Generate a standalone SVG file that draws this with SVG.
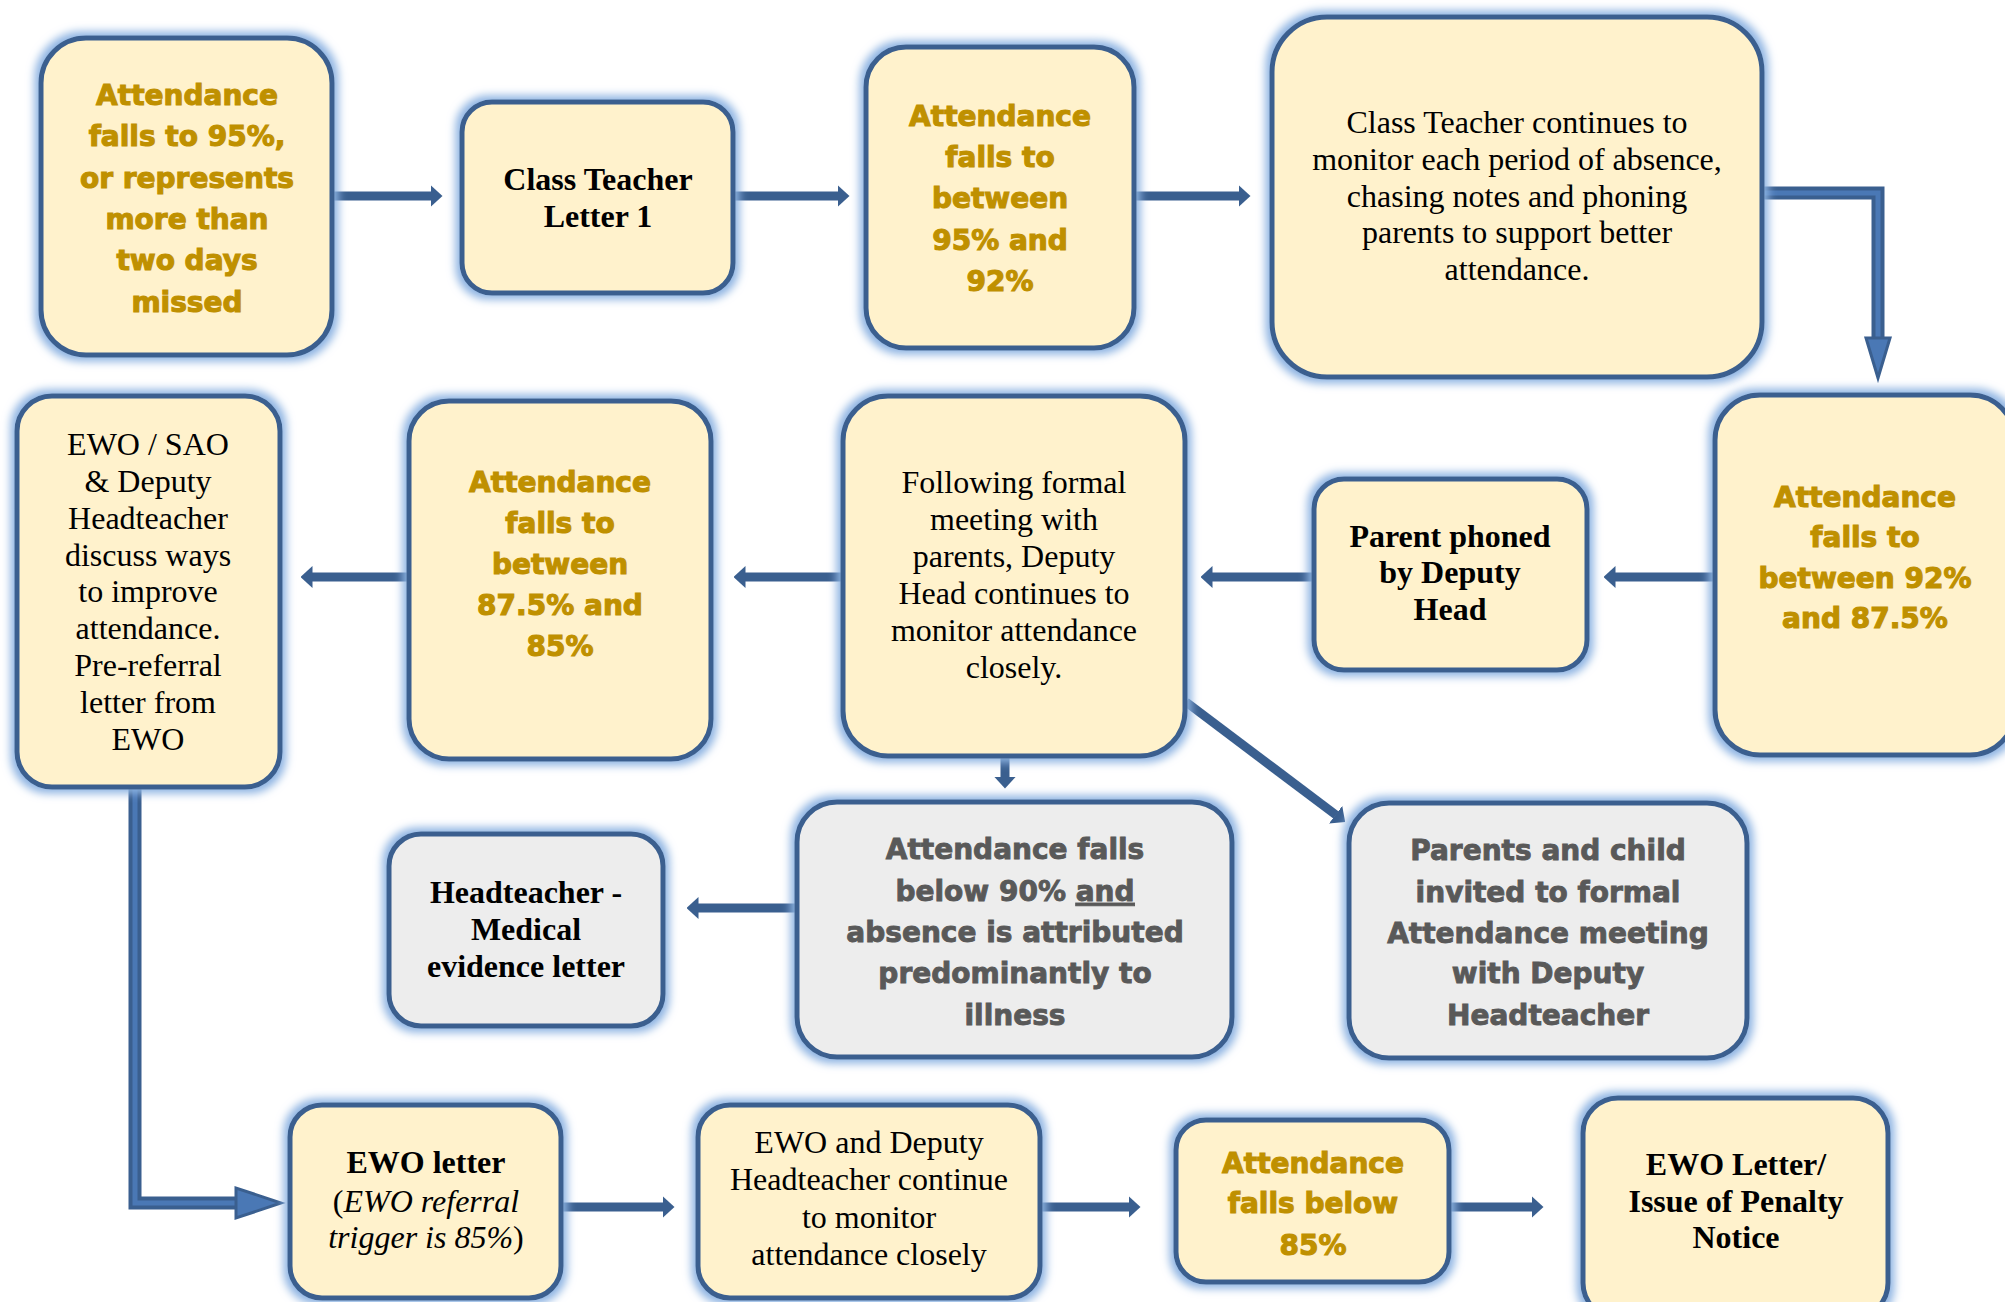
<svg xmlns="http://www.w3.org/2000/svg" width="2005" height="1302" viewBox="0 0 2005 1302">
<style>
.box{fill:#FFF2CC;stroke:#3A5F8F;stroke-width:5;filter:url(#glow)}
.gbox{fill:#EDEDED;stroke:#3A5F8F;stroke-width:5;filter:url(#glow)}
.g{font-family:"DejaVu Sans",sans-serif;font-weight:bold;font-size:28px;fill:#BF9000;stroke:#BF9000;stroke-width:1.1;text-anchor:middle}
.gr{font-family:"DejaVu Sans",sans-serif;font-weight:bold;font-size:28px;fill:#595959;stroke:#595959;stroke-width:0.9;text-anchor:middle}
.s{font-family:"Liberation Serif",serif;font-size:32px;fill:#000;text-anchor:middle}
.sb{font-family:"Liberation Serif",serif;font-weight:bold;font-size:32px;fill:#000;text-anchor:middle}
.ar{stroke:#3A5F8F;stroke-width:9;fill:none;marker-end:url(#ah)}
.el{stroke:#3A5F8F;stroke-width:13;fill:none;stroke-linejoin:miter}
.eli{stroke:#4A78B5;stroke-width:5;fill:none;stroke-linejoin:miter}
.eh{fill:#4A78B5;stroke:#3A5F8F;stroke-width:3;stroke-linejoin:miter}
</style>
<defs>
<filter id="glow" x="-15%" y="-15%" width="130%" height="130%">
<feMorphology in="SourceAlpha" operator="dilate" radius="4" result="d"/>
<feGaussianBlur in="d" stdDeviation="4" result="b"/>
<feFlood flood-color="#8DB3E2" flood-opacity="1"/>
<feComposite in2="b" operator="in" result="gl"/>
<feMerge><feMergeNode in="gl"/><feMergeNode in="SourceGraphic"/></feMerge>
</filter>
<marker id="ah" viewBox="0 0 12 22" markerWidth="12" markerHeight="22" refX="0.5" refY="11" markerUnits="userSpaceOnUse" orient="auto">
<path d="M0,0 L12,11 L0,22 z" fill="#3A5F8F"/>
</marker>
</defs>
<rect width="2005" height="1302" fill="#FFFFFF"/>

<g id="connectors">
<line class="ar" x1="332" y1="196" x2="431" y2="196"/>
<line class="ar" x1="733" y1="196" x2="838" y2="196"/>
<line class="ar" x1="1135" y1="196" x2="1239" y2="196"/>
<line class="ar" x1="1715" y1="577" x2="1615" y2="577"/>
<line class="ar" x1="1314" y1="577" x2="1212" y2="577"/>
<line class="ar" x1="843" y1="577" x2="745" y2="577"/>
<line class="ar" x1="409" y1="577" x2="312" y2="577"/>
<line class="ar" x1="797" y1="908" x2="698" y2="908"/>
<line class="ar" x1="561" y1="1207" x2="663" y2="1207"/>
<line class="ar" x1="1040" y1="1207" x2="1129" y2="1207"/>
<line class="ar" x1="1449" y1="1207" x2="1532" y2="1207"/>
<line class="ar" x1="1005" y1="757" x2="1005" y2="777"/>
<line class="ar" x1="1186" y1="702" x2="1336" y2="815"/>
<path class="el" d="M1763,193 H1878 V340"/>
<path class="eli" d="M1763,193 H1878 V340"/>
<polygon class="eh" points="1866,338 1890,338 1878,378"/>
<path class="el" d="M135,788 V1203 H238"/>
<path class="eli" d="M135,788 V1203 H238"/>
<polygon class="eh" points="236,1188 236,1218 281,1203"/>
</g>

<g id="n1">
<rect class="box" x="41" y="38" width="291" height="317" rx="45"/>
<text class="g" x="187" y="105">Attendance</text>
<text class="g" x="187" y="146">falls to 95%,</text>
<text class="g" x="187" y="188">or represents</text>
<text class="g" x="187" y="229">more than</text>
<text class="g" x="187" y="270">two days</text>
<text class="g" x="187" y="312">missed</text>
</g>
<g id="n2">
<rect class="box" x="462" y="102" width="271" height="191" rx="30"/>
<text class="sb" x="598" y="190">Class Teacher</text>
<text class="sb" x="598" y="227">Letter 1</text>
</g>
<g id="n3">
<rect class="box" x="866" y="47" width="268" height="301" rx="40"/>
<text class="g" x="1000" y="126">Attendance</text>
<text class="g" x="1000" y="167">falls to</text>
<text class="g" x="1000" y="208">between</text>
<text class="g" x="1000" y="250">95% and</text>
<text class="g" x="1000" y="291">92%</text>
</g>
<g id="n4">
<rect class="box" x="1272" y="17" width="490" height="360" rx="55"/>
<text class="s" x="1517" y="133">Class Teacher continues to</text>
<text class="s" x="1517" y="170">monitor each period of absence,</text>
<text class="s" x="1517" y="207">chasing notes and phoning</text>
<text class="s" x="1517" y="243">parents to support better</text>
<text class="s" x="1517" y="280">attendance.</text>
</g>
<g id="n5">
<rect class="box" x="1715" y="395" width="300" height="360" rx="45"/>
<text class="g" x="1865" y="507">Attendance</text>
<text class="g" x="1865" y="547">falls to</text>
<text class="g" x="1865" y="588">between 92%</text>
<text class="g" x="1865" y="628">and 87.5%</text>
</g>
<g id="n6">
<rect class="box" x="1314" y="479" width="273" height="191" rx="30"/>
<text class="sb" x="1450" y="547">Parent phoned</text>
<text class="sb" x="1450" y="583">by Deputy</text>
<text class="sb" x="1450" y="620">Head</text>
</g>
<g id="n7">
<rect class="box" x="843" y="396" width="342" height="360" rx="45"/>
<text class="s" x="1014" y="493">Following formal</text>
<text class="s" x="1014" y="530">meeting with</text>
<text class="s" x="1014" y="567">parents, Deputy</text>
<text class="s" x="1014" y="604">Head continues to</text>
<text class="s" x="1014" y="641">monitor attendance</text>
<text class="s" x="1014" y="678">closely.</text>
</g>
<g id="n8">
<rect class="box" x="409" y="401" width="302" height="358" rx="40"/>
<text class="g" x="560" y="492">Attendance</text>
<text class="g" x="560" y="533">falls to</text>
<text class="g" x="560" y="574">between</text>
<text class="g" x="560" y="615">87.5% and</text>
<text class="g" x="560" y="656">85%</text>
</g>
<g id="n9">
<rect class="box" x="17" y="396" width="263" height="391" rx="35"/>
<text class="s" x="148" y="455">EWO / SAO</text>
<text class="s" x="148" y="492">&amp; Deputy</text>
<text class="s" x="148" y="529">Headteacher</text>
<text class="s" x="148" y="566">discuss ways</text>
<text class="s" x="148" y="602">to improve</text>
<text class="s" x="148" y="639">attendance.</text>
<text class="s" x="148" y="676">Pre-referral</text>
<text class="s" x="148" y="713">letter from</text>
<text class="s" x="148" y="750">EWO</text>
</g>
<g id="n10">
<rect class="gbox" x="797" y="802" width="435" height="255" rx="40"/>
<text class="gr" x="1015" y="859">Attendance falls</text>
<text class="gr" x="1015" y="901">below 90% <tspan style="text-decoration:underline">and</tspan></text>
<text class="gr" x="1015" y="942">absence is attributed</text>
<text class="gr" x="1015" y="983">predominantly to</text>
<text class="gr" x="1015" y="1025">illness</text>
</g>
<g id="n11">
<rect class="gbox" x="389" y="834" width="274" height="192" rx="32"/>
<text class="sb" x="526" y="903">Headteacher -</text>
<text class="sb" x="526" y="940">Medical</text>
<text class="sb" x="526" y="977">evidence letter</text>
</g>
<g id="n12">
<rect class="gbox" x="1349" y="803" width="398" height="255" rx="40"/>
<text class="gr" x="1548" y="860">Parents and child</text>
<text class="gr" x="1548" y="902">invited to formal</text>
<text class="gr" x="1548" y="943">Attendance meeting</text>
<text class="gr" x="1548" y="983">with Deputy</text>
<text class="gr" x="1548" y="1025">Headteacher</text>
</g>
<g id="n13">
<rect class="box" x="290" y="1105" width="271" height="193" rx="32"/>
<text class="sb" x="426" y="1173">EWO letter</text>
<text class="s" x="426" y="1212">(<tspan font-style="italic">EWO referral</tspan></text>
<text class="s" x="426" y="1248"><tspan font-style="italic">trigger is 85%</tspan>)</text>
</g>
<g id="n14">
<rect class="box" x="698" y="1105" width="342" height="193" rx="32"/>
<text class="s" x="869" y="1153">EWO and Deputy</text>
<text class="s" x="869" y="1190">Headteacher continue</text>
<text class="s" x="869" y="1228">to monitor</text>
<text class="s" x="869" y="1265">attendance closely</text>
</g>
<g id="n15">
<rect class="box" x="1176" y="1120" width="273" height="162" rx="30"/>
<text class="g" x="1313" y="1173">Attendance</text>
<text class="g" x="1313" y="1213">falls below</text>
<text class="g" x="1313" y="1255">85%</text>
</g>
<g id="n16">
<rect class="box" x="1583" y="1098" width="305" height="220" rx="35"/>
<text class="sb" x="1736" y="1175">EWO Letter/</text>
<text class="sb" x="1736" y="1212">Issue of Penalty</text>
<text class="sb" x="1736" y="1248">Notice</text>
</g>
</svg>
